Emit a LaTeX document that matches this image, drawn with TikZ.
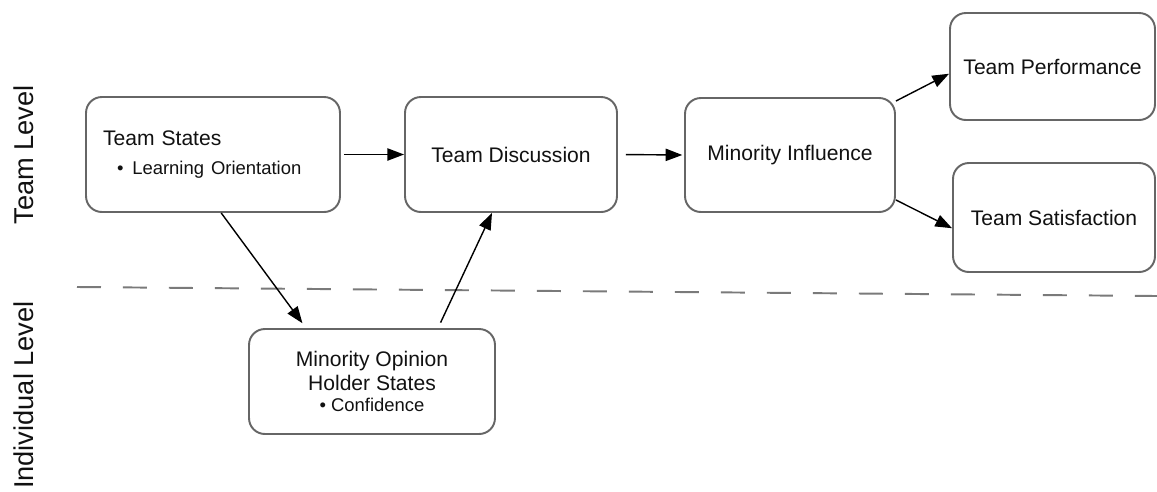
\documentclass[tikz,border=0pt]{standalone}
\usepackage{fontspec}
\setmainfont{Liberation Sans}
\usetikzlibrary{arrows.meta}
\definecolor{boxline}{HTML}{666666}
\definecolor{labeltext}{HTML}{111111}
\definecolor{levelline}{HTML}{7A7A7A}

\begin{document}
\begin{tikzpicture}[x=0.02cm,y=-0.02cm,
  block/.style={draw=boxline,line width=1.1pt,rounded corners=9pt,minimum height=2.3cm,
    text=labeltext,font=\fontsize{12}{14}\selectfont,align=center},
  link/.style={-{Triangle[length=9.5pt,width=7pt]},line width=0.8pt,black},
  level/.style={rotate=90,font=\fontsize{15.5}{18}\selectfont,text=labeltext}]
  \useasboundingbox (0,0) rectangle (1157,491);
  % team level
  \node[block,minimum width=5.08cm,text width=4.4cm,align=left,inner xsep=0.34cm] (states) at (213,154.5)
    {Team States\\[3pt]{\fontsize{10.5}{12}\selectfont\hspace*{8pt}\textbullet\hspace{5pt}Learning Orientation}};
  \node[block,minimum width=4.24cm] (discussion) at (511,154.5) {Team Discussion};
  \node[block,minimum width=4.2cm,minimum height=2.28cm] (influence) at (790,155) {Minority Influence};
  \node[block,minimum width=4.1cm,minimum height=2.14cm] (performance) at (1052.5,66.5) {Team Performance};
  \node[block,minimum width=4.04cm,minimum height=2.18cm] (satisfaction) at (1054,217.5) {Team Satisfaction};
  % individual level
  \node[block,minimum width=4.92cm,minimum height=2.1cm] (opinion) at (372,381.5)
    {Minority Opinion\\Holder States\\[-2pt]{\fontsize{10.5}{12}\selectfont\textbullet\ Confidence}};
  % divider
  \draw[levelline,line width=1.1pt,dash pattern=on 0.48cm off 0.44cm] (77,287) -- (1157,296);
  \node[level] (team level) at (24,155) {Team Level};
  \node[level,anchor=east] (individual level) at (24,295) {Individual Level};
  % arrows
  \draw[link,shorten <=1.7pt] (states.east) -- (discussion.west);
  \draw[link,shorten <=4.5pt,shorten >=1pt] (discussion.east) -- (influence.west);
  \draw[link] (influence.27) -- (performance.184);
  \draw[link] (influence.-23) -- (satisfaction.186);
  \draw[link,shorten >=3.4pt] (states.-82) -- (opinion.141);
  \draw[link,shorten <=3.4pt] (opinion.39) -- (discussion.252);
\end{tikzpicture}
\end{document}
